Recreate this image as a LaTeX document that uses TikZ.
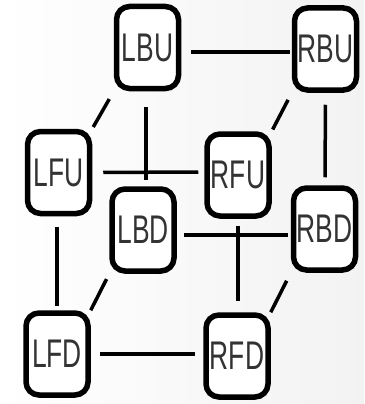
\documentclass[tikz,border=0pt]{standalone}
\usepackage{fontspec}
\newfontfamily\boxfont[FakeStretch=0.66]{Liberation Sans}
\begin{document}
\begin{tikzpicture}[x=1pt,y=-1pt,
  cell/.style={draw=black, line width=5.5pt, rounded corners=13pt, fill=white,
    minimum width=62pt, minimum height=82pt, inner sep=0pt,
    font=\boxfont\fontsize{40}{40}\selectfont, text=black!80},
  link/.style={line width=3.5pt, black}]
\shade[left color=white, right color=black!5] (0,0) rectangle (364,404);
\useasboundingbox (0,0) rectangle (364,404);
\node[cell] (LBU) at (147.5,47.5) {LBU};
\node[cell] (RBU) at (325.5,49) {RBU};
\node[cell] (LFU) at (58.5,172.5) {LFU};
\node[cell] (RFU) at (238,175) {RFU};
\node[cell] (LBD) at (143,230) {LBD};
\node[cell] (RBD) at (324.5,229) {RBD};
\node[cell] (LFD) at (57,354) {LFD};
\node[cell] (RFD) at (237,356) {RFD};
% horizontal
\draw[link, shorten <=10pt, shorten >=2pt] ([yshift=-4.5pt]LBU.east) -- ([yshift=-3pt]RBU.west);
\draw[link, shorten <=11pt, shorten >=6pt] (LFU.east) -- ([yshift=3pt]RFU.west);
\draw[link, shorten <=7pt, shorten >=3pt] ([yshift=-5pt]LBD.east) -- ([yshift=-6pt]RBD.west);
\draw[link, shorten <=9pt, shorten >=8pt] (LFD.east) -- ([yshift=2pt]RFD.west);
% vertical
\draw[link, shorten <=16pt, shorten >=6pt] ([xshift=-1.5pt]LBU.south) -- ([xshift=3pt]LBD.north);
\draw[link, shorten <=12pt, shorten >=8pt] (RBU.south) -- ([xshift=0.5pt]RBD.north);
\draw[link, shorten <=11pt, shorten >=4pt] ([xshift=-1.5pt]LFU.south) -- (LFD.north);
\draw[link, shorten <=7pt, shorten >=11pt] (RFU.south) -- ([xshift=1pt]RFD.north);
% diagonal
\draw[link, shorten <=9pt, shorten >=2pt] (LBU.south west) -- (LFU.north east);
\draw[link, shorten <=8pt, shorten >=2pt] (RBU.south west) -- (RFU.north east);
\draw[link, shorten <=6pt, shorten >=0pt] (LBD.south west) -- (LFD.north east);
\draw[link, shorten <=9pt, shorten >=0pt] (RBD.south west) -- (RFD.north east);
\end{tikzpicture}
\end{document}
